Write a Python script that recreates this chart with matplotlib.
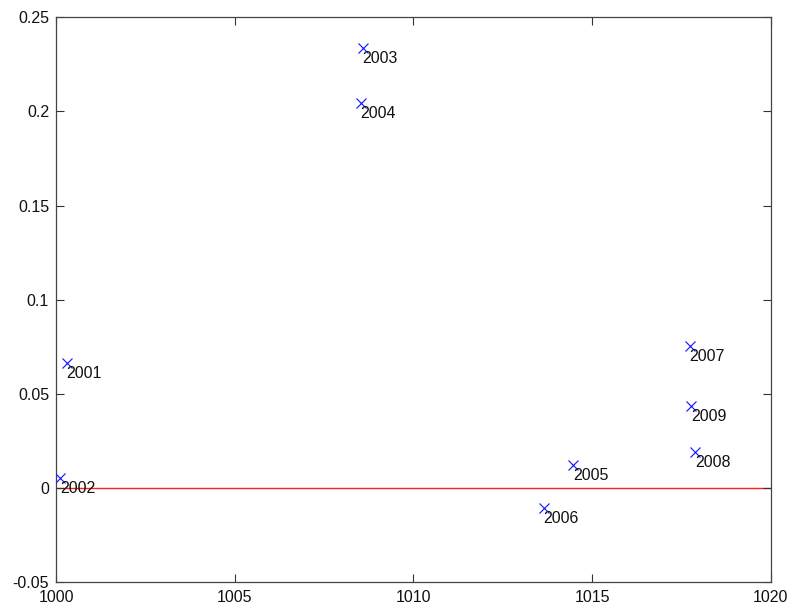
import matplotlib
matplotlib.use("Agg")
import matplotlib.pyplot as plt
from matplotlib.ticker import FuncFormatter

plt.rcParams['font.family'] = ['Liberation Sans', 'DejaVu Sans']

# Scatter data: x position, y value and a year label for each point
years = ["2001", "2002", "2003", "2004", "2005", "2006", "2007", "2008", "2009"]
x_vals = [1000.30, 1000.11, 1008.58, 1008.52, 1014.47, 1013.64, 1017.73, 1017.88, 1017.77]
y_vals = [0.0661, 0.0050, 0.2336, 0.2044, 0.0121, -0.0106, 0.0755, 0.0188, 0.0434]

x_ticks = [1000, 1005, 1010, 1015, 1020]
y_ticks = [-0.05, 0, 0.05, 0.1, 0.15, 0.2, 0.25]

fig = plt.figure(figsize=(7.89, 6.08), dpi=100)
ax = fig.add_axes([0.071, 0.0433, 0.906, 0.928])

ax.axhline(0, color='#ff2020', lw=1.0, zorder=1)
ax.plot(x_vals, y_vals, linestyle='none', marker='x', color='#1a1aff',
        markersize=7.5, markeredgewidth=0.85, zorder=3)

for xv, yv, lab in zip(x_vals, y_vals, years):
    ax.annotate(lab, (xv, yv), xytext=(0, -3), textcoords='offset pixels',
                ha='left', va='top', fontsize=11.5, color='#111111', zorder=4)

ax.set_xlim(1000, 1020)
ax.set_ylim(-0.05, 0.25)
ax.set_xticks(x_ticks)
ax.set_yticks(y_ticks)
ax.yaxis.set_major_formatter(FuncFormatter(lambda v, p: '%g' % round(v, 4)))
ax.tick_params(direction='in', length=6, width=0.8, colors='#333333',
               labelcolor='#111111', labelsize=11.5, top=True, right=True)
ax.tick_params(axis='x', pad=6)
ax.tick_params(axis='y', pad=5)
for s in ax.spines.values():
    s.set_color('#444444')
    s.set_linewidth(0.9)

fig.savefig('out.png', dpi=100)
